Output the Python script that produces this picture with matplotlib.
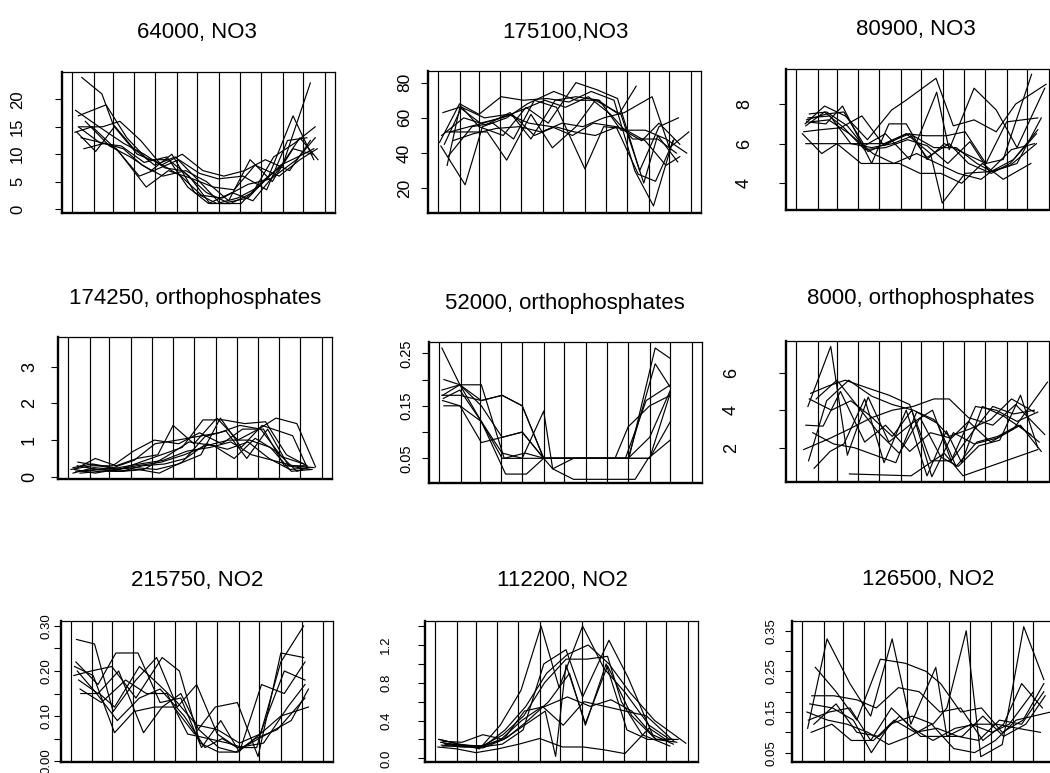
import matplotlib
matplotlib.use("Agg")
import matplotlib.pyplot as plt

plt.rcParams['font.family'] = ['Liberation Sans', 'DejaVu Sans']

month_starts = [1, 32, 60, 91, 121, 152, 182, 213, 244, 274, 305, 335, 366]

titles = ["64000, NO3", "175100,NO3", "80900, NO3",
          "174250, orthophosphates", "52000, orthophosphates", "8000, orthophosphates",
          "215750, NO2", "112200, NO2", "126500, NO2"]

# ---- panel 1: 64000, NO3
p1_days = [
    [15, 44, 60, 90, 120, 150, 185, 215, 245, 275, 305, 345],
    [6, 40, 75, 105, 135, 160, 195, 225, 255, 285, 320, 350],
    [10, 50, 80, 110, 140, 170, 200, 230, 262, 292, 322, 352],
    [12, 45, 70, 100, 130, 160, 190, 220, 250, 280, 315, 345],
    [18, 48, 65, 108, 140, 175, 205, 235, 265, 300, 330, 355],
    [8, 35, 62, 95, 125, 158, 188, 218, 255, 288, 325, 352],
    [14, 47, 75, 102, 132, 165, 195, 227, 258, 290, 320, 348],
    [10, 42, 72, 105, 138, 168, 198, 232, 262, 298, 330, 356],
    [5, 30, 68, 98, 128, 155, 185, 212, 248, 282, 312, 340],
    [20, 55, 85, 115, 145, 178, 210, 240, 270, 302, 335, 350],
]
p1_vals = [
    [24, 21, 15.5, 11, 8, 9.5, 5, 1, 1, 5, 8, 23],
    [18, 15, 12, 10, 7.5, 7, 3, 1.2, 2, 6, 17, 9],
    [17, 19, 13, 9, 9, 6, 1, 1, 3, 9.5, 12, 15],
    [15, 15, 16, 12.5, 8, 10, 7, 6, 7, 9, 7, 12.5],
    [11, 12, 11, 4, 7, 5.5, 4, 3.5, 8, 6, 9, 11],
    [14, 10.5, 15, 10, 8.5, 6, 2.5, 2, 4.5, 5.5, 9, 13],
    [13, 12, 11, 8, 6, 7, 5, 1.5, 9, 5, 11, 10],
    [15, 12, 11.5, 8.5, 9.5, 4, 1, 3, 1.5, 7, 13, 9],
    [14, 15, 10.5, 6, 7.5, 9, 6.5, 5.5, 6, 3.5, 12.5, 13],
    [16, 11.5, 9.5, 7, 10, 3, 1, 2, 4, 8, 10, 11],
]

# ---- panel 2: 175100, NO3
p2_days = [
    [3, 32, 60, 92, 124, 158, 190, 222, 255, 285, 312, 340],
    [8, 32, 62, 93, 125, 155, 185, 218, 250, 282, 318, 345],
    [5, 40, 65, 100, 130, 168, 200, 232, 262, 287],
    [14, 33, 60, 95, 128, 160, 200, 230, 260, 292, 320, 348],
    [12, 45, 72, 100, 135, 166, 200, 228, 265, 298, 318, 347],
    [15, 50, 80, 110, 140, 172, 213, 240, 268, 300, 330, 350],
    [18, 46, 75, 108, 140, 170, 198, 228, 260, 295, 320, 350],
    [22, 52, 85, 118, 150, 180, 210, 240, 270, 310, 335, 363],
    [10, 35, 68, 102, 132, 165, 195, 225, 258, 290, 315, 342],
    [6, 38, 70, 105, 135, 170, 200, 234, 265, 300, 330, 360],
]
p2_vals = [
    [46, 68, 62, 72, 70, 71, 69, 75, 70, 30, 10, 47],
    [63, 66, 57, 60, 65, 70, 66, 72, 62, 48, 48, 40],
    [44, 22, 55, 60, 68, 75, 70, 70, 62, 78],
    [33, 67, 55, 50, 66, 57, 80, 76, 71, 30, 55, 60],
    [52, 52, 52, 36, 62, 43, 55, 70, 62, 23, 50, 35],
    [38, 55, 57, 48, 70, 66, 31, 55, 54, 47, 33, 38],
    [52, 55, 58, 62, 50, 55, 52, 50, 55, 47, 57, 45],
    [47, 51, 54, 55, 52, 57, 55, 60, 63, 72, 43, 52],
    [45, 66, 60, 62, 57, 55, 50, 57, 55, 28, 24, 48],
    [50, 60, 56, 63, 48, 70, 72, 70, 53, 53, 48, 40],
]

# ---- panel 3: 80900, NO3
p3_days = [
    [14, 42, 72, 104, 139, 160, 203, 228, 258, 290, 318, 362],
    [16, 45, 70, 100, 130, 165, 204, 222, 258, 290, 320, 360],
    [12, 35, 65, 96, 128, 160, 195, 212, 245, 285, 320, 355],
    [15, 40, 70, 100, 128, 160, 188, 218, 245, 275, 305, 350],
    [10, 38, 60, 95, 125, 150, 180, 210, 240, 270, 300, 340],
    [20, 45, 75, 105, 130, 165, 190, 222, 250, 283, 310, 348],
    [18, 50, 80, 110, 140, 170, 200, 232, 262, 283, 310, 348],
    [22, 48, 78, 112, 142, 175, 205, 235, 268, 283, 315, 350],
    [16, 44, 68, 110, 135, 160, 190, 215, 245, 275, 300, 341],
    [15, 42, 70, 100, 130, 162, 190, 220, 252, 280, 312, 345],
]
p3_vals = [
    [7.0, 7.9, 7.4, 6.2, 7.7, 8.2, 9.3, 6.9, 7.2, 6.6, 8.0, 9.0],
    [7.2, 7.5, 7.6, 5.9, 6.5, 5.2, 8.6, 5.7, 8.8, 7.7, 5.8, 8.8],
    [6.6, 6.7, 6.8, 7.4, 5.9, 6.5, 5.5, 3.0, 4.5, 4.6, 5.0, 7.3],
    [6.0, 6.0, 6.0, 6.0, 6.0, 6.5, 6.4, 6.4, 6.6, 5.0, 7.1, 7.3],
    [6.5, 5.5, 6.0, 5.0, 5.0, 5.0, 4.5, 4.5, 4.0, 5.0, 4.2, 5.0],
    [7.5, 7.6, 6.9, 5.6, 6.0, 6.5, 5.3, 6.0, 5.0, 4.5, 5.0, 6.5],
    [7.3, 7.4, 6.0, 5.8, 6.0, 6.4, 5.8, 5.8, 5.0, 4.6, 4.9, 6.0],
    [7.1, 7.2, 6.5, 5.5, 5.0, 5.5, 5.0, 4.5, 4.2, 4.6, 5.2, 6.7],
    [7.1, 7.0, 7.9, 5.0, 7.0, 7.0, 5.2, 6.0, 5.5, 5.0, 5.2, 9.5],
    [6.9, 7.6, 6.8, 5.7, 5.8, 6.2, 5.9, 5.0, 6.1, 4.6, 5.7, 6.0],
]

# ---- panel 4: 174250, orthophosphates
p4_days = [
    [10, 40, 70, 100, 130, 152, 182, 215, 245, 275, 300, 330, 357],
    [15, 45, 75, 105, 135, 165, 195, 225, 255, 285, 315, 345],
    [8, 38, 68, 98, 128, 160, 192, 220, 250, 280, 324, 345],
    [12, 42, 72, 102, 132, 165, 198, 228, 258, 288, 318, 348],
    [5, 35, 65, 95, 125, 160, 190, 222, 252, 282, 312, 342],
    [18, 48, 78, 108, 140, 170, 200, 230, 260, 290, 320, 350],
    [10, 40, 70, 100, 135, 168, 200, 232, 262, 292, 322, 352],
    [14, 44, 74, 104, 138, 172, 205, 235, 265, 295, 325, 355],
    [20, 50, 80, 110, 142, 175, 210, 240, 270, 300, 330, 345],
    [8, 36, 66, 96, 126, 158, 188, 218, 248, 278, 308, 340],
]
p4_vals = [
    [0.2, 0.5, 0.3, 0.5, 0.6, 1.4, 0.9, 1.6, 1.0, 1.3, 1.6, 1.45, 0.27],
    [0.4, 0.3, 0.2, 0.4, 0.6, 0.8, 1.55, 1.55, 1.45, 1.5, 0.6, 0.3],
    [0.1, 0.25, 0.2, 0.25, 0.2, 0.35, 0.6, 1.6, 0.8, 1.4, 1.12, 0.25],
    [0.15, 0.2, 0.15, 0.2, 0.1, 0.4, 1.1, 1.25, 0.5, 1.3, 0.3, 0.2],
    [0.2, 0.3, 0.3, 0.7, 1.0, 0.9, 1.2, 0.9, 1.3, 1.3, 0.3, 0.3],
    [0.1, 0.15, 0.15, 0.3, 0.35, 0.5, 0.9, 0.75, 0.95, 0.5, 0.2, 0.25],
    [0.2, 0.1, 0.2, 0.3, 0.4, 0.6, 0.85, 1.0, 1.0, 0.8, 0.15, 0.2],
    [0.3, 0.2, 0.25, 0.35, 0.45, 0.7, 0.8, 0.95, 0.6, 0.45, 0.3, 0.25],
    [0.15, 0.2, 0.15, 0.2, 0.55, 0.95, 0.85, 0.5, 1.05, 0.7, 0.15, 0.25],
    [0.25, 0.35, 0.25, 0.45, 0.9, 1.0, 1.1, 1.2, 1.4, 1.3, 0.55, 0.35],
]

# ---- panel 5: 52000, orthophosphates
p5_days = [
    [5, 31, 62, 92, 121, 152, 182, 213, 244, 274, 305, 335],
    [8, 31, 62, 95, 125, 153, 185, 215, 245, 275, 313, 335],
    [5, 31, 62, 92, 121, 152, 165, 195, 230, 284, 303, 335],
    [6, 31, 62, 92, 121, 152, 182, 213, 244, 274, 313, 335],
    [7, 31, 62, 97, 127, 152, 182, 213, 244, 270, 300, 335],
    [8, 31, 62, 92, 121, 152, 165, 195, 225, 255, 274, 305, 335],
    [5, 31, 62, 92, 121, 152, 182, 213, 244, 274, 305, 335],
    [6, 31, 62, 92, 121, 152, 182, 213, 244, 274, 305, 335],
]
p5_vals = [
    [0.26, 0.19, 0.16, 0.17, 0.15, 0.05, 0.05, 0.05, 0.05, 0.05, 0.05, 0.12],
    [0.20, 0.19, 0.19, 0.05, 0.06, 0.05, 0.05, 0.05, 0.05, 0.05, 0.26, 0.24],
    [0.18, 0.19, 0.15, 0.09, 0.10, 0.05, 0.03, 0.01, 0.01, 0.01, 0.05, 0.085],
    [0.17, 0.19, 0.12, 0.05, 0.05, 0.05, 0.05, 0.05, 0.05, 0.05, 0.23, 0.185],
    [0.164, 0.18, 0.12, 0.02, 0.02, 0.05, 0.05, 0.05, 0.05, 0.05, 0.16, 0.19],
    [0.15, 0.15, 0.12, 0.06, 0.05, 0.14, 0.03, 0.05, 0.05, 0.05, 0.11, 0.15, 0.17],
    [0.17, 0.17, 0.16, 0.17, 0.15, 0.05, 0.05, 0.05, 0.05, 0.05, 0.09, 0.18],
    [0.16, 0.15, 0.08, 0.09, 0.10, 0.05, 0.05, 0.05, 0.05, 0.05, 0.05, 0.175],
]

# ---- panel 6: 8000, orthophosphates
p6_days = [
    [18, 51, 75, 105, 135, 168, 198, 225, 255, 285, 315, 345],
    [19, 45, 77, 110, 140, 170, 200, 222, 252, 282, 312, 345],
    [15, 40, 65, 100, 130, 165, 195, 225, 250, 282, 315, 364],
    [27, 50, 70, 100, 128, 160, 190, 218, 240, 270, 300, 340],
    [78, 167, 215, 242, 350],
    [12, 50, 78, 110, 140, 170, 200, 222, 250, 285, 318, 360],
    [22, 48, 72, 103, 135, 165, 195, 225, 260, 290, 320, 350],
    [25, 55, 85, 115, 145, 175, 205, 232, 262, 292, 322, 352],
    [20, 52, 80, 108, 140, 168, 197, 228, 258, 290, 325, 355],
    [30, 60, 90, 120, 150, 180, 210, 235, 265, 295, 325, 350],
]
p6_vals = [
    [4.2, 7.4, 1.6, 4.7, 2.3, 3.3, 4.0, 1.3, 2.8, 4.2, 3.8, 4.0],
    [1.3, 4.5, 5.6, 4.75, 4.3, 4.0, 3.5, 2.6, 3.0, 3.5, 4.6, 3.9],
    [3.2, 3.15, 5.0, 2.3, 3.2, 1.8, 2.8, 2.5, 3.4, 2.3, 3.0, 5.5],
    [0.9, 1.8, 2.2, 4.6, 1.2, 4.0, 0.5, 2.9, 1.2, 4.2, 3.7, 2.7],
    [0.6, 0.5, 1.7, 0.5, 1.9],
    [1.9, 2.5, 3.0, 3.6, 4.0, 4.2, 4.6, 4.6, 3.6, 3.2, 4.3, 2.7],
    [4.9, 5.3, 5.6, 5.2, 4.8, 4.3, 1.3, 1.3, 4.2, 4.0, 3.4, 3.9],
    [2.8, 2.2, 2.0, 1.6, 1.2, 3.9, 3.3, 1.0, 2.3, 2.6, 3.2, 2.3],
    [4.6, 4.0, 4.5, 3.7, 2.6, 4.0, 0.45, 2.8, 2.2, 2.5, 3.2, 1.8],
    [4.6, 5.6, 4.2, 2.8, 1.7, 3.6, 1.5, 1.0, 2.1, 2.4, 4.8, 2.0],
]

# ---- panel 7: 215750, NO2
p7_days = [
    [9, 35, 62, 95, 125, 155, 183, 213, 242, 270, 305, 338],
    [8, 40, 66, 98, 130, 160, 190, 218, 245, 277, 310, 340],
    [6, 33, 64, 92, 122, 150, 180, 210, 242, 272, 305, 338],
    [5, 30, 60, 95, 133, 158, 188, 215, 243, 275, 310, 340],
    [12, 40, 70, 106, 133, 160, 186, 215, 240, 268, 300, 340],
    [15, 42, 64, 100, 128, 155, 183, 213, 245, 275, 305, 345],
    [10, 38, 68, 100, 130, 165, 195, 220, 242, 280, 315, 340],
    [14, 45, 80, 110, 140, 170, 200, 228, 250, 285, 320, 345],
]
p7_vals = [
    [0.27, 0.26, 0.11, 0.18, 0.23, 0.12, 0.17, 0.06, 0.03, 0.03, 0.22, 0.30],
    [0.22, 0.17, 0.24, 0.24, 0.13, 0.14, 0.03, 0.09, 0.02, 0.17, 0.15, 0.22],
    [0.21, 0.19, 0.063, 0.11, 0.12, 0.12, 0.06, 0.12, 0.13, 0.01, 0.24, 0.23],
    [0.19, 0.20, 0.21, 0.14, 0.23, 0.20, 0.04, 0.02, 0.02, 0.06, 0.20, 0.18],
    [0.18, 0.15, 0.20, 0.063, 0.12, 0.15, 0.07, 0.03, 0.02, 0.05, 0.07, 0.14],
    [0.15, 0.15, 0.12, 0.21, 0.17, 0.13, 0.08, 0.07, 0.04, 0.06, 0.10, 0.12],
    [0.20, 0.15, 0.09, 0.14, 0.16, 0.10, 0.03, 0.05, 0.03, 0.04, 0.12, 0.17],
    [0.16, 0.13, 0.18, 0.15, 0.15, 0.06, 0.05, 0.04, 0.03, 0.06, 0.09, 0.16],
]

# ---- panel 8: 112200, NO2
p8_days = [
    [8, 35, 65, 95, 125, 154, 180, 214, 245, 275, 310, 340],
    [10, 38, 68, 98, 128, 158, 190, 214, 252, 280, 315, 345],
    [5, 32, 60, 92, 122, 152, 185, 215, 245, 275, 310, 338],
    [12, 40, 70, 100, 130, 160, 175, 190, 218, 250, 285, 320, 350],
    [14, 42, 72, 102, 132, 162, 192, 222, 252, 282, 318, 363],
    [6, 36, 66, 96, 126, 156, 186, 216, 246, 276, 306, 346],
    [9, 39, 69, 99, 129, 159, 190, 220, 250, 270, 300, 340],
    [15, 45, 75, 105, 135, 165, 195, 218, 248, 278, 308, 345],
    [12, 40, 70, 100, 130, 160, 192, 225, 255, 285, 320, 352],
]
p8_vals = [
    [0.20, 0.15, 0.10, 0.35, 0.72, 1.40, 0.75, 1.40, 0.95, 0.70, 0.35, 0.20],
    [0.14, 0.12, 0.12, 0.15, 0.30, 1.00, 1.15, 0.65, 1.25, 0.85, 0.25, 0.15],
    [0.12, 0.10, 0.06, 0.10, 0.15, 0.21, 0.12, 0.12, 0.09, 0.05, 0.32, 0.18],
    [0.18, 0.17, 0.25, 0.20, 0.35, 0.50, 0.02, 0.99, 0.37, 0.98, 0.45, 0.20, 0.17],
    [0.16, 0.14, 0.13, 0.30, 0.55, 0.90, 1.10, 1.20, 1.00, 0.70, 0.40, 0.16],
    [0.20, 0.15, 0.12, 0.20, 0.40, 0.55, 0.35, 0.60, 0.55, 0.50, 0.45, 0.18],
    [0.17, 0.13, 0.13, 0.25, 0.45, 0.80, 1.05, 1.05, 1.08, 0.60, 0.25, 0.13],
    [0.15, 0.12, 0.14, 0.22, 0.40, 0.60, 0.90, 0.35, 1.00, 0.30, 0.20, 0.20],
    [0.13, 0.13, 0.11, 0.20, 0.50, 0.55, 0.65, 0.55, 0.62, 0.50, 0.20, 0.20],
]

# ---- panel 9: 126500, NO2
p9_days = [
    [9, 37, 70, 100, 131, 158, 194, 210, 245, 275, 300, 335],
    [12, 45, 75, 101, 128, 160, 190, 210, 238, 259, 290, 321, 350],
    [20, 50, 80, 114, 150, 180, 201, 230, 260, 290, 320, 350],
    [15, 47, 80, 108, 140, 170, 200, 230, 262, 292, 318, 348],
    [10, 40, 70, 100, 130, 160, 190, 222, 252, 282, 312, 345],
    [14, 44, 72, 104, 134, 164, 196, 226, 256, 286, 318, 350],
    [8, 38, 66, 96, 126, 156, 188, 220, 250, 280, 310, 360],
    [18, 50, 80, 112, 142, 172, 202, 232, 262, 292, 324, 352],
]
p9_vals = [
    [0.11, 0.33, 0.22, 0.14, 0.33, 0.12, 0.26, 0.09, 0.12, 0.10, 0.12, 0.20],
    [0.17, 0.16, 0.13, 0.05, 0.12, 0.14, 0.12, 0.16, 0.35, 0.04, 0.07, 0.36, 0.23],
    [0.26, 0.20, 0.13, 0.28, 0.27, 0.25, 0.22, 0.15, 0.16, 0.10, 0.13, 0.22],
    [0.19, 0.19, 0.18, 0.16, 0.21, 0.20, 0.15, 0.16, 0.08, 0.12, 0.22, 0.16],
    [0.13, 0.15, 0.16, 0.08, 0.16, 0.11, 0.08, 0.11, 0.12, 0.12, 0.11, 0.10],
    [0.10, 0.12, 0.08, 0.08, 0.13, 0.10, 0.11, 0.09, 0.08, 0.13, 0.12, 0.20],
    [0.15, 0.13, 0.12, 0.10, 0.07, 0.09, 0.12, 0.06, 0.05, 0.08, 0.13, 0.15],
    [0.12, 0.17, 0.10, 0.09, 0.14, 0.09, 0.09, 0.09, 0.14, 0.09, 0.12, 0.19],
]

all_days = [p1_days, p2_days, p3_days, p4_days, p5_days, p6_days, p7_days, p8_days, p9_days]
all_vals = [p1_vals, p2_vals, p3_vals, p4_vals, p5_vals, p6_vals, p7_vals, p8_vals, p9_vals]

yticks = [
    [0, 5, 10, 15, 20], [20, 40, 60, 80], [4, 6, 8],
    [0, 1, 2, 3], [0.05, 0.10, 0.15, 0.20, 0.25], [2, 4, 6],
    [0.00, 0.05, 0.10, 0.15, 0.20, 0.25, 0.30],
    [0.0, 0.2, 0.4, 0.6, 0.8, 1.0, 1.2, 1.4],
    [0.05, 0.10, 0.15, 0.20, 0.25, 0.30, 0.35],
]
ytick_labels = [
    ["0", "5", "10", "15", "20"], ["20", "40", "60", "80"], ["4", "6", "8"],
    ["0", "1", "2", "3"], ["0.05", "", "0.15", "", "0.25"], ["2", "4", "6"],
    ["0.00", "", "0.10", "", "0.20", "", "0.30"],
    ["0.0", "", "0.4", "", "0.8", "", "1.2", ""],
    ["0.05", "", "0.15", "", "0.25", "", "0.35"],
]

# layout (pixels): box left, right, top, bottom
boxes = [
    (62, 335, 72, 213), (428, 701, 71, 213), (786, 1059, 69, 210),
    (58, 332, 337, 479), (429, 702, 342, 483), (786, 1059, 341, 482),
    (61, 333, 621, 762), (425, 698, 621, 762), (792, 1065, 621, 762),
]
ylims = [
    (-0.73, 25.0), (6.0, 86.6), (2.65, 9.77),
    (-0.06, 3.81), (0.003, 0.2715), (0.17, 7.69),
    (-0.002, 0.311), (-0.039, 1.454), (0.027, 0.374),
]
label_gap_px = [30, 9, 26, 13, 9, 39, 2, 26, 8]
label_size = [12, 12.5, 13, 13, 10.5, 13, 9.5, 9.5, 9.5]
title_pos = [
    (197, 38), (565, 38), (916, 35),
    (195, 304), (565, 309), (921, 304),
    (197, 586), (562, 586), (928, 585),
]

W, H = 1050, 773
fig = plt.figure(figsize=(W / 100, H / 100), dpi=100)

pad_days = 0.04 * (month_starts[-1] - month_starts[0])
for i in range(9):
    l, r, t, b = boxes[i]
    ax = fig.add_axes([l / W, 1 - b / H, (r - l) / W, (b - t) / H])
    for m in month_starts:
        ax.axvline(m, color="black", lw=0.85, zorder=1)
    for d, v in zip(all_days[i], all_vals[i]):
        ax.plot(d, v, color="black", lw=0.85, zorder=2)
    ax.set_xlim(month_starts[0] - pad_days, month_starts[-1] + pad_days)
    ax.set_ylim(*ylims[i])
    ax.set_xticks([])
    ax.set_yticks(yticks[i])
    ax.set_yticklabels(ytick_labels[i])
    ax.tick_params(axis="y", direction="out", length=5, width=0.8,
                   labelsize=label_size[i], labelrotation=90,
                   pad=label_gap_px[i] * 0.72)
    for lab in ax.get_yticklabels():
        lab.set_va("center")
    for side in ["left", "bottom"]:
        ax.spines[side].set_linewidth(1.7)
    for side in ["top", "right"]:
        ax.spines[side].set_linewidth(0.9)
    tx, ty = title_pos[i]
    fig.text(tx / W, 1 - ty / H, titles[i], ha="center", va="baseline",
             fontsize=16)

fig.savefig("out.png", dpi=100)
